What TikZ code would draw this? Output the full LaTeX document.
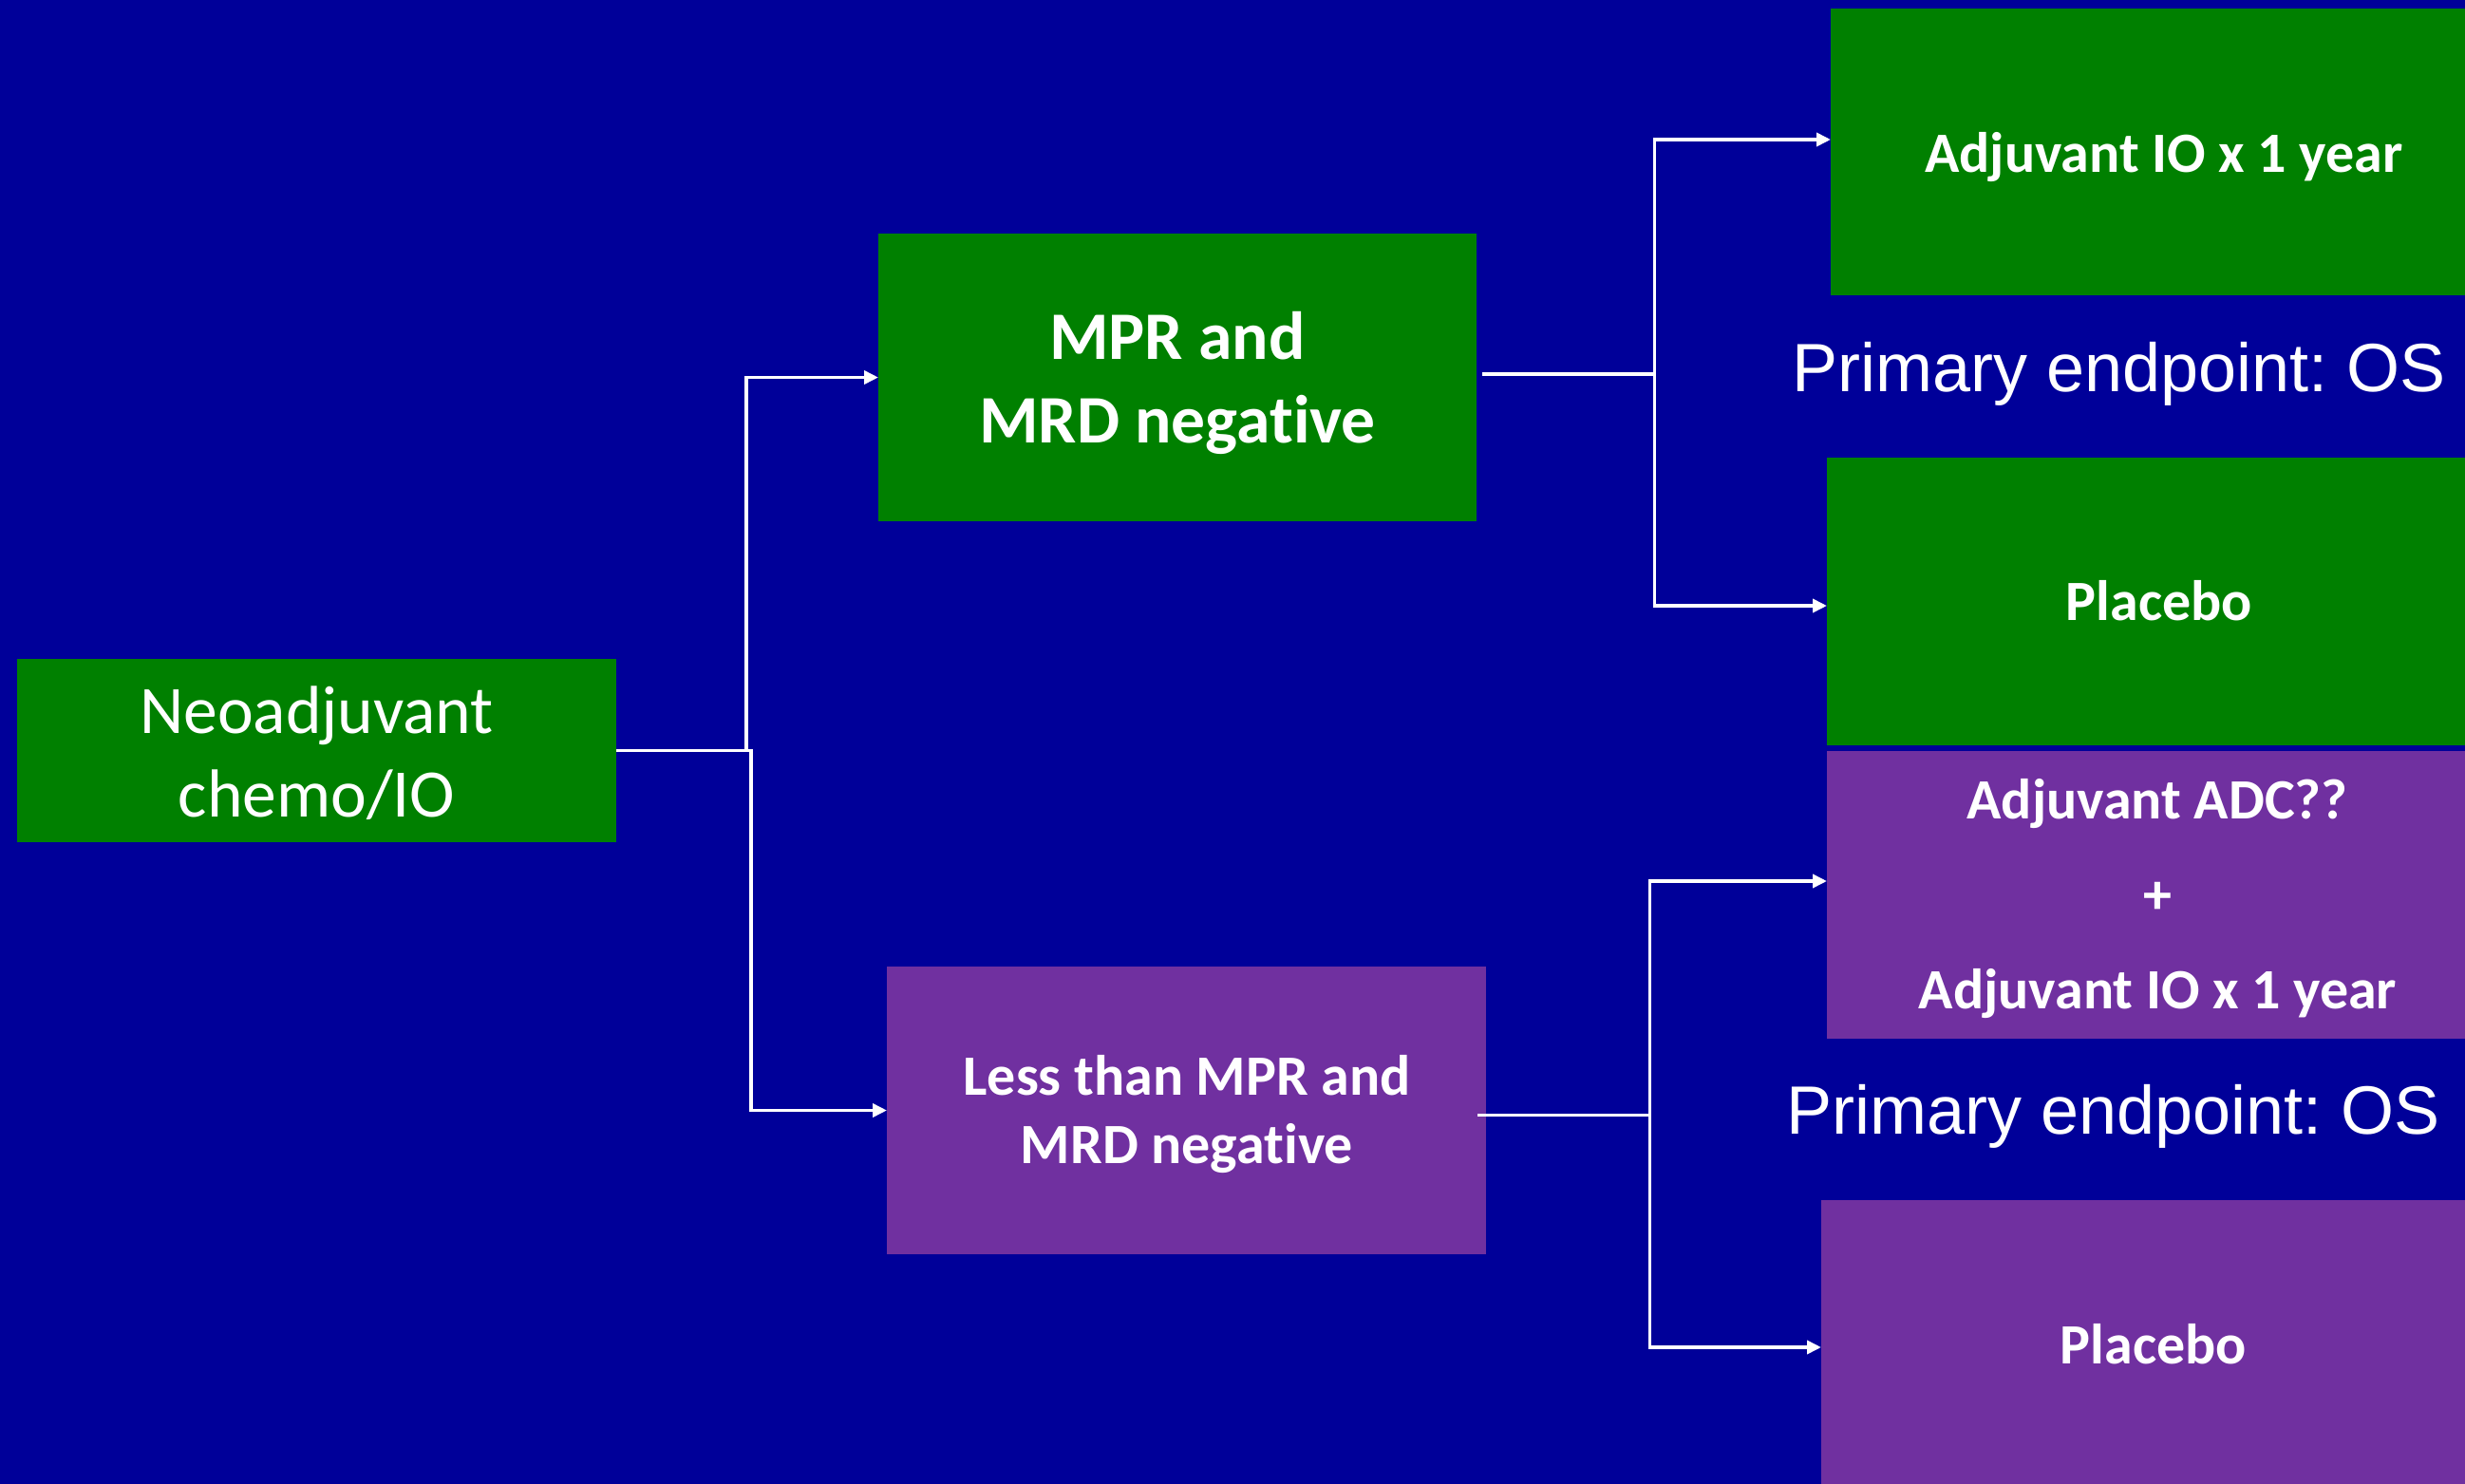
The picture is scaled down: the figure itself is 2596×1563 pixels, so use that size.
\documentclass[tikz,border=0pt]{standalone}
\usepackage{fontspec}
\setmainfont{Carlito}[Ligatures=NoCommon]
\newfontfamily\arialf{Liberation Sans}
\usetikzlibrary{arrows.meta,calc}
\definecolor{bgblue}{RGB}{0,0,153}
\definecolor{boxgreen}{RGB}{0,128,0}
\definecolor{boxpurple}{RGB}{112,48,160}
\tikzset{
  box/.style={inner sep=0pt, outer sep=0pt, draw=none},
  gbox/.style={box, fill=boxgreen},
  pbox/.style={box, fill=boxpurple},
  txt/.style={anchor=base, inner sep=0pt, outer sep=0pt, text=white},
  conn/.style={draw=white, line width=0.9pt, -{Triangle[length=3.75pt,width=3.5pt]}},
}
\begin{document}
\frenchspacing
\begin{tikzpicture}[x=0.25pt,y=-0.25pt]
\useasboundingbox (0,0) rectangle (2596,1563);
\clip (0,0) rectangle (2596,1563);
\fill[bgblue] (0,0) rectangle (2596,1563);

% boxes
\node[gbox, minimum width=157.75pt, minimum height=48.25pt] (neo) at (333.5,790.5) {};
\node[gbox, minimum width=157.5pt, minimum height=75.75pt] (mpr) at (1240,397.5) {};
\node[pbox, minimum width=157.75pt, minimum height=75.75pt] (less) at (1249.5,1169.5) {};
\node[gbox, minimum width=175.5pt, minimum height=75.5pt] (io1) at (2279,160) {};
\node[gbox, minimum width=175pt, minimum height=75.75pt] (pl1) at (2274,633.5) {};
\node[pbox, minimum width=174pt, minimum height=75.75pt] (adc) at (2272,942.5) {};
\node[pbox, minimum width=175pt, minimum height=76.5pt] (pl2) at (2268,1417) {};

% texts
\node[txt, font=\fontsize{17.9pt}{22pt}\selectfont] (neoA) at (333.5,772) {Neoadjuvant};
\node[txt, font=\fontsize{17.9pt}{22pt}\selectfont] (neoB) at (333.5,860) {chemo/IO};
\node[txt, font=\bfseries\fontsize{17.9pt}{22pt}\selectfont] (mprA) at (1240,378) {MPR and};
\node[txt, font=\bfseries\fontsize{17.9pt}{22pt}\selectfont] (mprB) at (1240,466) {MRD negative};
\node[txt, font=\bfseries\fontsize{15pt}{18pt}\selectfont] (lessA) at (1250,1153) {Less than MPR and};
\node[txt, font=\bfseries\fontsize{15pt}{18pt}\selectfont] (lessB) at (1250,1225) {MRD negative};
\node[txt, font=\bfseries\fontsize{15pt}{18pt}\selectfont] (io1t) at (2279,181) {Adjuvant IO x 1 year};
\node[txt, font=\arialf\fontsize{18pt}{22pt}\selectfont] (ep1) at (2231.5,412) {Primary endpoint: OS};
\node[txt, font=\bfseries\fontsize{15pt}{18pt}\selectfont] (pl1t) at (2274,653) {Placebo};
\node[txt, font=\bfseries\fontsize{15pt}{18pt}\selectfont] (adcA) at (2272,862.5) {Adjuvant ADC??};
\node[txt, font=\bfseries\fontsize{15pt}{18pt}\selectfont] (adcB) at (2272,962) {+};
\node[txt, font=\bfseries\fontsize{15pt}{18pt}\selectfont] (adcC) at (2272.5,1062.5) {Adjuvant IO x 1 year};
\node[txt, font=\arialf\fontsize{18pt}{22pt}\selectfont] (ep2) at (2225.5,1194) {Primary endpoint: OS};
\node[txt, font=\bfseries\fontsize{15pt}{18pt}\selectfont] (pl2t) at (2268,1436) {Placebo};

% junction coordinates
\coordinate (j1) at (786,790.5);
\coordinate (j2) at (791,790.5);
\coordinate (j3) at (1742.5,394);
\coordinate (j4) at (1737.5,1174.5);

% connectors
\draw[conn] (neo.east) -- (j1) |- (mpr.west);
\draw[conn] (neo.east) -- (j2) |- (less.west);
\draw[conn] ($(mpr.east)+(6,-3.5)$) -- (j3) |- ($(io1.west)+(0,-13)$);
\draw[conn] (j3) |- ($(pl1.west)+(0,4.5)$);
\draw[conn] ($(less.east)+(-9,5)$) -- (j4) |- ($(adc.west)+(0,-14.5)$);
\draw[conn] (j4) |- ($(pl2.west)+(0,2)$);
\end{tikzpicture}
\end{document}
